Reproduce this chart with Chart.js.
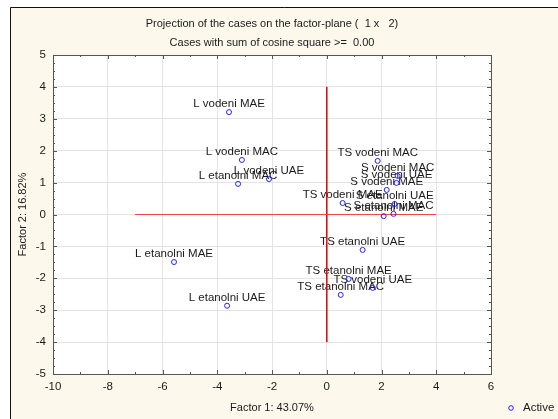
<!DOCTYPE html>
<html>
<head>
<meta charset="utf-8">
<title>Projection of the cases on the factor-plane</title>
<script src="https://cdn.jsdelivr.net/npm/chart.js@4/dist/chart.umd.min.js"></script>
<style>
  html, body { margin: 0; padding: 0; background: #ffffff; }
  #wrap { width: 558px; height: 419px; }
</style>
</head>
<body>
<div id="wrap"><canvas id="chart" width="558" height="419"></canvas></div>
<script>
'use strict';

// ============================================================
// 1. DATA — case coordinates on factors 1 and 2
// ============================================================
const caseNames = [
  'L vodeni MAE', 'L vodeni MAC', 'L vodeni UAE', 'L etanolni MAC', 'L etanolni MAE', 'L etanolni UAE',
  'TS vodeni MAC', 'TS vodeni MAE', 'TS vodeni UAE', 'TS etanolni UAE', 'TS etanolni MAE', 'TS etanolni MAC',
  'S vodeni MAC', 'S vodeni UAE', 'S vodeni MAE', 'S etanolni UAE', 'S etanolni MAE', 'S etanolni MAC',
];
const factor1 = [-3.57, -3.10, -2.11, -3.24, -5.58, -3.64,  1.86, 0.58,  1.68,  1.31,  0.80,  0.51,  2.59, 2.55, 2.19, 2.48,  2.08, 2.44];
const factor2 = [ 3.21,  1.71,  1.11,  0.96, -1.49, -2.86,  1.68, 0.36, -2.30, -1.11, -2.02, -2.52,  1.21, 0.99, 0.77, 0.33, -0.05, 0.02];

const xLimits = [-10, 6];
const yLimits = [-5, 5];
const xLabelStep = 2;
const yLabelStep = 1;

// reference lines drawn by the program (origin cross)
const hLineX = [-7, 4];
const vLineY = [4, -4];

const titleLines = [
  'Projection of the cases on the factor-plane (  1 x   2)',
  'Cases with sum of cosine square >=  0.00',
];
const xTitle = 'Factor 1: 43.07%';
const yTitle = 'Factor 2: 16.82%';
const seriesName = 'Active';

// ============================================================
// 2. HELPERS
// ============================================================
const FONT = "'Liberation Sans', Arial, sans-serif";
const TEXT = '#1a1a1a';
const POINT = '#2323ff';

function toPoints(xs, ys) {
  return xs.map((x, i) => ({ x, y: ys[i] }));
}

// white page, cream panel with a dark frame on top/left
const backgroundPlugin = {
  id: 'panel',
  beforeDraw(chart) {
    const { ctx, width, height, chartArea: a } = chart;
    ctx.save();
    ctx.fillStyle = '#ffffff';
    ctx.fillRect(0, 0, width, height);
    ctx.fillStyle = '#fdf8ec';
    ctx.fillRect(10, 7, width - 10, height - 7);
    ctx.strokeStyle = '#111';
    ctx.lineWidth = 1;
    ctx.beginPath();
    ctx.moveTo(10.5, height);
    ctx.lineTo(10.5, 7.5);
    ctx.lineTo(width, 7.5);
    ctx.stroke();
    ctx.fillStyle = '#ffffff';
    ctx.fillRect(a.left, a.top, a.right - a.left, a.bottom - a.top);
    ctx.restore();
  }
};

// plot frame with inward ticks on all four sides, then case labels
const framePlugin = {
  id: 'frame',
  beforeDatasetsDraw(chart) {
    const { ctx, chartArea: a, scales: { x, y } } = chart;
    ctx.save();
    ctx.strokeStyle = '#555';
    ctx.lineWidth = 1;
    ctx.strokeRect(Math.round(a.left) + 0.5, Math.round(a.top) + 0.5,
      Math.round(a.right - a.left), Math.round(a.bottom - a.top));

    ctx.beginPath();
    for (let v = xLimits[0]; v <= xLimits[1]; v += 1) {
      const px = Math.round(x.getPixelForValue(v)) + 0.5;
      const len = v % xLabelStep === 0 ? 4 : 2;
      ctx.moveTo(px, a.bottom); ctx.lineTo(px, a.bottom - len);
      ctx.moveTo(px, a.top); ctx.lineTo(px, a.top + len);
    }
    for (let v = yLimits[0]; v <= yLimits[1] + 1e-9; v += 0.25) {
      const py = Math.round(y.getPixelForValue(v)) + 0.5;
      const len = Math.abs(v - Math.round(v)) < 1e-9 ? 4 : 2;
      ctx.moveTo(a.left, py); ctx.lineTo(a.left + len, py);
      ctx.moveTo(a.right, py); ctx.lineTo(a.right - len, py);
    }
    ctx.stroke();

    // case labels centred just above each point
    const meta = chart.getDatasetMeta(0);
    ctx.font = '11.5px ' + FONT;
    ctx.fillStyle = TEXT;
    ctx.textAlign = 'center';
    ctx.textBaseline = 'middle';
    meta.data.forEach((pt, i) => {
      ctx.fillText(caseNames[i], pt.x, pt.y - 8);
    });
    ctx.restore();
  },
  afterDraw(chart) {
    // legend entry in the bottom-right corner
    const { ctx } = chart;
    const ds = chart.data.datasets[0];
    ctx.save();
    ctx.strokeStyle = ds.borderColor;
    ctx.lineWidth = 1;
    ctx.beginPath();
    ctx.arc(511, 408, 2.3, 0, Math.PI * 2);
    ctx.stroke();
    ctx.font = '11.5px ' + FONT;
    ctx.fillStyle = TEXT;
    ctx.textAlign = 'left';
    ctx.textBaseline = 'middle';
    ctx.fillText(ds.label, 523, 408);
    ctx.restore();
  }
};

// ============================================================
// 3. CHART
// ============================================================
const tickFont = { family: FONT, size: 11.5 };
const titleFont = { family: FONT, size: 11 };

new Chart(document.getElementById('chart'), {
  type: 'scatter',
  data: {
    datasets: [
      {
        label: seriesName,
        data: toPoints(factor1, factor2),
        borderColor: POINT,
        backgroundColor: 'rgba(0,0,0,0)',
        borderWidth: 1,
        pointRadius: 2.5,
        pointStyle: 'circle',
      },
      {
        label: 'h0',
        data: toPoints(hLineX, [0, 0]),
        showLine: true,
        borderColor: '#f04848',
        borderWidth: 1,
        pointRadius: 0,
      },
      {
        label: 'v0',
        data: toPoints([0, 0], vLineY),
        showLine: true,
        borderColor: '#d81010',
        borderWidth: 1,
        pointRadius: 0,
      },
    ]
  },
  options: {
    responsive: false,
    animation: false,
    devicePixelRatio: 1,
    layout: { padding: { left: 12, right: 67, top: 0, bottom: 2 } },
    plugins: {
      legend: { display: false },
      tooltip: { enabled: false },
      title: {
        display: true,
        fullSize: false,
        text: titleLines,
        color: TEXT,
        font: { family: FONT, size: 11, weight: 'normal', lineHeight: '19px' },
        padding: { top: 14, bottom: 3 },
      },
    },
    scales: {
      x: {
        type: 'linear',
        min: xLimits[0],
        max: xLimits[1],
        afterFit(scale) { scale.height = 43; },
        border: { display: false },
        grid: { color: '#e4e4e4', drawTicks: false },
        ticks: { stepSize: xLabelStep, color: TEXT, font: tickFont, padding: 6, maxRotation: 0 },
        title: { display: true, text: xTitle, color: TEXT, font: titleFont, padding: { top: 0, bottom: 2 } },
      },
      y: {
        type: 'linear',
        min: yLimits[0],
        max: yLimits[1],
        afterFit(scale) { scale.width = 41; },
        border: { display: false },
        grid: { color: '#e4e4e4', drawTicks: false },
        ticks: { stepSize: yLabelStep, color: TEXT, font: tickFont, padding: 7 },
        title: { display: true, text: yTitle, color: TEXT, font: titleFont, padding: { top: 4, bottom: 0 } },
      },
    },
  },
  plugins: [backgroundPlugin, framePlugin],
});
</script>
</body>
</html>
